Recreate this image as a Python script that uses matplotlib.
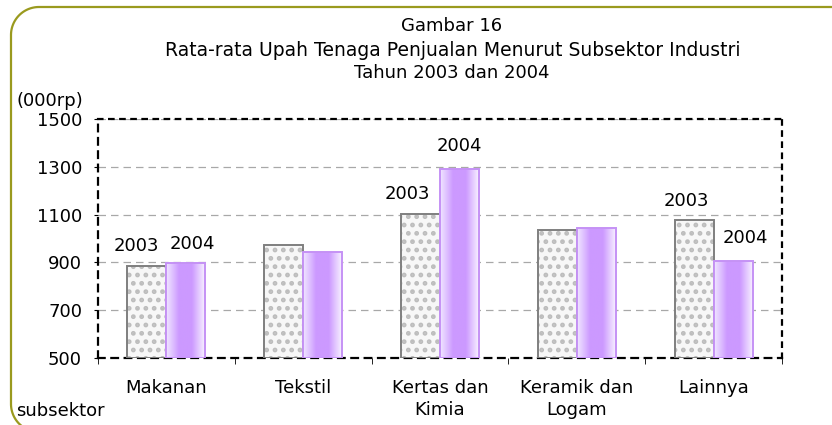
import numpy as np
import matplotlib
matplotlib.use("Agg")
from matplotlib import pyplot as plt
from matplotlib.colors import LinearSegmentedColormap

# data
categories = ["Makanan", "Tekstil", "Kertas dan\nKimia", "Keramik dan\nLogam", "Lainnya"]
upah_2003 = [887, 971, 1104, 1036, 1079]
upah_2004 = [896, 942, 1292, 1045, 904]
yticks = [500, 700, 900, 1100, 1300, 1500]
# which categories carry the year labels, and how far (px) each label sits from its bar top
labelled = [0, 2, 4]
off_2003 = {0: (-11, 15), 2: (-13, 15), 4: (-8, 14)}
off_2004 = {0: (6, 14), 2: (0, 18), 4: (12, 18)}

plt.rcParams['font.family'] = ['DejaVu Sans']
plt.rcParams['font.size'] = 13
plt.rcParams['hatch.linewidth'] = 2.2

W, H = 832, 425
fig = plt.figure(figsize=(W / 100, H / 100), dpi=100)

# background axes in pixel coords for the rounded olive frame
bg = fig.add_axes([0, 0, 1, 1])
bg.set_xlim(0, W)
bg.set_ylim(H, 0)
bg.axis("off")
r = 28
a = np.linspace(0, np.pi / 2, 30)
top_arc_x, top_arc_y = 11 + r - r * np.cos(a[::-1]), 7 + r - r * np.sin(a[::-1])
bot_arc_x, bot_arc_y = 11 + r - r * np.cos(a), 404 + r * np.sin(a)
fx = np.concatenate([[W + 5], top_arc_x, bot_arc_x])
fy = np.concatenate([[7], top_arc_y, bot_arc_y])
bg.plot(fx, fy, color="#9a9a1e", linewidth=1.6, clip_on=False, solid_capstyle="butt")

ax = fig.add_axes([98 / W, 1 - 358 / H, (782 - 98) / W, (358 - 119) / H])

x = np.arange(len(categories))
w = 0.285

# 2003: light gray dotted fill with a darker outline
for xi, v in zip(x, upah_2003):
    ax.bar(xi - w / 2, v - 500, w, bottom=500, facecolor="#f7f7f7",
           edgecolor="#bdbdbd", linewidth=0, hatch="..", zorder=3)
    ax.bar(xi - w / 2, v - 500, w, bottom=500, facecolor="none",
           edgecolor="#7f7f7f", linewidth=1.4, zorder=3.2)

# 2004: lavender gradient bars
grad = LinearSegmentedColormap.from_list("lav", ["#f0e6ff", "#cc99ff", "#cc99ff", "#f7f0ff"])
g = np.linspace(0, 1, 64).reshape(1, -1)
for xi, v in zip(x, upah_2004):
    bar = ax.bar(xi + w / 2, v - 500, w, bottom=500, facecolor="none",
                 edgecolor="#c592f5", linewidth=1.4, zorder=4)[0]
    im = ax.imshow(g, cmap=grad, aspect="auto", zorder=3.5,
                   extent=(xi, xi + w, 500, v))
    im.set_clip_path(bar)

ax.set_xlim(-0.5, len(categories) - 0.5)
ax.set_ylim(500, 1500)

for i in labelled:
    ax.annotate("2003", (x[i] - w / 2, upah_2003[i]), xytext=off_2003[i],
                textcoords="offset pixels", ha="center", va="baseline")
    ax.annotate("2004", (x[i] + w / 2, upah_2004[i]), xytext=off_2004[i],
                textcoords="offset pixels", ha="center", va="baseline")

ax.set_yticks(yticks)
ax.yaxis.grid(True, linestyle=(0, (6, 4)), color="#a8a8a8", linewidth=0.9)
ax.set_axisbelow(True)
ax.set_xticks(x)
ax.set_xticklabels(categories, linespacing=1.3)
ax.tick_params(axis="x", length=0, pad=15)
ax.set_xticks(np.arange(len(categories) + 1) - 0.5, minor=True)
ax.tick_params(axis="x", which="minor", length=4, direction="out")
ax.tick_params(axis="y", length=3, pad=8.5)

for s in ["left", "bottom"]:
    ax.spines[s].set_linestyle((0, (3, 3)))
    ax.spines[s].set_linewidth(1.6)
for s in ["top", "right"]:
    ax.spines[s].set_linestyle((0, (2, 3)))
    ax.spines[s].set_linewidth(1.6)

fig.text(452 / W, 1 - 26 / H, "Gambar 16", ha="center", va="center")
fig.text(453 / W, 1 - 50 / H, "Rata-rata Upah Tenaga Penjualan Menurut Subsektor Industri",
         ha="center", va="center", fontsize=13.5)
fig.text(452 / W, 1 - 73 / H, "Tahun 2003 dan 2004", ha="center", va="center")
fig.text(16 / W, 1 - 101 / H, "(000rp)", ha="left", va="center")
fig.text(16 / W, 1 - 411 / H, "subsektor", ha="left", va="center")

fig.savefig("out.png", dpi=100)
